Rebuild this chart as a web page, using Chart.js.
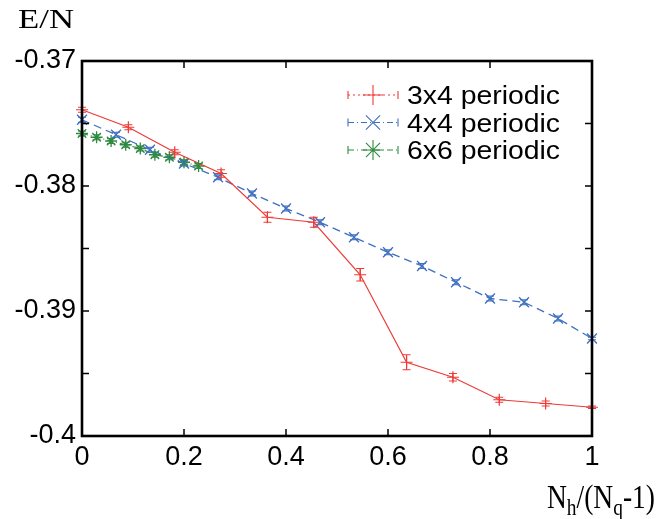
<!DOCTYPE html>
<html>
<head>
<meta charset="utf-8">
<script src="https://cdn.jsdelivr.net/npm/chart.js@4.4.1/dist/chart.umd.min.js"></script>
<style>
  html, body { margin: 0; padding: 0; background: #fff; }
  canvas { display: block; }
</style>
</head>
<body>
<canvas id="chart" width="668" height="519"></canvas>
<script>
// x = Nh/(Nq-1), y = E/N
const x3x4 = [0, 0.0909, 0.1818, 0.2727, 0.3636, 0.4545, 0.5455, 0.6364, 0.7273, 0.8182, 0.9091, 1];
const e3x4 = [-0.3739, -0.3753, -0.3773, -0.3790, -0.3825, -0.3829, -0.3871, -0.3941, -0.3953, -0.3971, -0.3974, -0.3977];
const err3x4 = [0.0002, 0.0002, 0.0002, 0.0003, 0.0004, 0.0004, 0.0005, 0.0006, 0.0003, 0.0002, 0.0002, 0.0001];

const x4x4 = [0, 0.0667, 0.1333, 0.2, 0.2667, 0.3333, 0.4, 0.4667, 0.5333, 0.6, 0.6667, 0.7333, 0.8, 0.8667, 0.9333, 1];
const e4x4 = [-0.3747, -0.3759, -0.3771, -0.3782, -0.3793, -0.3806, -0.3818, -0.3829, -0.3841, -0.3853, -0.3864, -0.3877, -0.3890, -0.3893, -0.3906, -0.3922];
const err4x4 = [0.0002, 0.0002, 0.0002, 0.0002, 0.0002, 0.0002, 0.0002, 0.0002, 0.0002, 0.0002, 0.0002, 0.0002, 0.0002, 0.0002, 0.0002, 0.0001];

const x6x6 = [0, 0.0286, 0.0571, 0.0857, 0.1143, 0.1429, 0.1714, 0.2, 0.2286];
const e6x6 = [-0.3758, -0.3761, -0.3764, -0.3767, -0.3770, -0.3775, -0.3777, -0.3781, -0.3784];
const err6x6 = [0.0002, 0.0002, 0.0002, 0.0002, 0.0002, 0.0002, 0.0002, 0.0002, 0.0002];

const seriesNames = ["3x4 periodic", "4x4 periodic", "6x6 periodic"];
const xTickLabels = [0, 0.2, 0.4, 0.6, 0.8, 1];
const yTickLabels = [-0.37, -0.38, -0.39, -0.4];
const yMinorTicks = [-0.375, -0.385, -0.395];

const SANS = "'Liberation Sans', Arial, sans-serif";
const SERIF = "'Liberation Serif', 'Times New Roman', serif";

function toPoints(xs, ys) {
  return xs.map((x, i) => ({ x: x, y: ys[i] }));
}

function findLabel(list, v) {
  const t = list.find((k) => Math.abs(k - v) < 1e-6);
  return t === undefined ? "" : String(t);
}

// draw text squeezed/stretched to a given width
function fitText(ctx, parts, size, left, baseline, width) {
  const subSize = Math.round(size * 0.7);
  let total = 0;
  parts.forEach((p) => {
    ctx.font = (p.sub ? subSize : size) + "px " + SERIF;
    p.w = ctx.measureText(p.t).width;
    total += p.w;
  });
  ctx.save();
  ctx.translate(left, baseline);
  ctx.scale(width / total, 1);
  let x = 0;
  parts.forEach((p) => {
    ctx.font = (p.sub ? subSize : size) + "px " + SERIF;
    ctx.fillText(p.t, x, p.sub ? size * 0.22 : 0);
    x += p.w;
  });
  ctx.restore();
}

const errorBars = {
  id: "errorBars",
  afterDatasetsDraw(chart) {
    const ctx = chart.ctx;
    const yScale = chart.scales.y;
    chart.data.datasets.forEach((ds, di) => {
      const meta = chart.getDatasetMeta(di);
      ctx.save();
      ctx.strokeStyle = ds.borderColor;
      ctx.lineWidth = 1.1;
      ctx.beginPath();
      meta.data.forEach((pt, i) => {
        const v = ds.data[i].y;
        const top = yScale.getPixelForValue(v + ds.errors[i]);
        const bot = yScale.getPixelForValue(v - ds.errors[i]);
        ctx.moveTo(pt.x, top);
        ctx.lineTo(pt.x, bot);
        ctx.moveTo(pt.x - 4, top);
        ctx.lineTo(pt.x + 4, top);
        ctx.moveTo(pt.x - 4, bot);
        ctx.lineTo(pt.x + 4, bot);
      });
      ctx.stroke();
      ctx.restore();
    });
  },
};

const frameAndText = {
  id: "frameAndText",
  afterDraw(chart) {
    const ctx = chart.ctx;
    const a = chart.chartArea;
    const xs = chart.scales.x;
    const ys = chart.scales.y;
    ctx.save();

    // inward tick marks on all four sides
    ctx.strokeStyle = "#000";
    ctx.lineWidth = 1.5;
    ctx.beginPath();
    yTickLabels.concat(yMinorTicks).forEach((v) => {
      const py = ys.getPixelForValue(v);
      ctx.moveTo(a.left, py);
      ctx.lineTo(a.left + 7, py);
      ctx.moveTo(a.right, py);
      ctx.lineTo(a.right - 7, py);
    });
    xTickLabels.forEach((v) => {
      const px = xs.getPixelForValue(v);
      ctx.moveTo(px, a.bottom);
      ctx.lineTo(px, a.bottom - 7);
      ctx.moveTo(px, a.top);
      ctx.lineTo(px, a.top + 7);
    });
    ctx.stroke();

    ctx.lineWidth = 2.6;
    ctx.strokeRect(a.left, a.top, a.right - a.left, a.bottom - a.top);

    // axis titles
    ctx.fillStyle = "#000";
    ctx.textBaseline = "alphabetic";
    ctx.textAlign = "left";
    fitText(ctx, [{ t: "E/N" }], 28, 18, 28, 56);
    fitText(ctx, [{ t: "N" }, { t: "h", sub: true }, { t: "/(" }, { t: "N" }, { t: "q", sub: true }, { t: "-1)" }], 34, 547, 508, 108);

    // legend
    chart.data.datasets.forEach((ds, i) => {
      const ry = 95 + i * 27.5;
      ctx.strokeStyle = ds.borderColor;
      ctx.lineWidth = 1.1;
      ctx.setLineDash(ds.legendDash);
      ctx.beginPath();
      ctx.moveTo(348, ry);
      ctx.lineTo(398, ry);
      ctx.stroke();
      ctx.setLineDash([]);
      ctx.beginPath();
      ctx.moveTo(348, ry - 4);
      ctx.lineTo(348, ry + 4);
      ctx.moveTo(398, ry - 4);
      ctx.lineTo(398, ry + 4);
      ctx.stroke();
      Chart.helpers.drawPoint(ctx, {
        pointStyle: ds.pointStyle,
        radius: 10,
        rotation: 0,
        borderWidth: 1.3,
      }, 373, ry);
      ctx.fillStyle = "#000";
      ctx.font = "26px " + SANS;
      const w = ctx.measureText(ds.label).width;
      ctx.save();
      ctx.translate(407, ry + 9);
      ctx.scale(153 / w, 1);
      ctx.fillText(ds.label, 0, 0);
      ctx.restore();
    });
    ctx.restore();
  },
};

const ctx = document.getElementById("chart").getContext("2d");
new Chart(ctx, {
  type: "line",
  data: {
    datasets: [
      {
        label: seriesNames[0],
        data: toPoints(x3x4, e3x4),
        errors: err3x4,
        borderColor: "#ee3a36",
        borderWidth: 1.2,
        pointStyle: "cross",
        pointRadius: 6,
        pointBorderWidth: 1.2,
        legendDash: [2, 3],
        clip: false,
      },
      {
        label: seriesNames[1],
        data: toPoints(x4x4, e4x4),
        errors: err4x4,
        borderColor: "#3f6fc0",
        borderWidth: 1.3,
        borderDash: [8, 5],
        pointStyle: "crossRot",
        pointRadius: 7,
        pointBorderWidth: 1.3,
        legendDash: [6, 3, 1, 3],
        clip: false,
      },
      {
        label: seriesNames[2],
        data: toPoints(x6x6, e6x6),
        errors: err6x6,
        borderColor: "#2e8a40",
        borderWidth: 1.2,
        borderDash: [6, 3, 1, 3],
        pointStyle: "star",
        pointRadius: 6,
        pointBorderWidth: 1.3,
        legendDash: [6, 3, 1, 3],
        clip: false,
      },
    ],
  },
  options: {
    responsive: false,
    animation: false,
    layout: { padding: { top: 61, right: 76, left: 0, bottom: 0 } },
    plugins: {
      legend: { display: false },
      tooltip: { enabled: false },
    },
    scales: {
      x: {
        type: "linear",
        min: 0,
        max: 1,
        grid: { display: false, drawTicks: false },
        border: { display: false },
        ticks: {
          stepSize: 0.2,
          autoSkip: false,
          maxRotation: 0,
          padding: 5,
          color: "#000",
          font: { family: SANS, size: 27 },
          callback: (v) => findLabel(xTickLabels, v),
        },
        afterFit(scale) {
          scale.height = 83;
        },
      },
      y: {
        type: "linear",
        min: -0.4,
        max: -0.37,
        grid: { display: false, drawTicks: false },
        border: { display: false },
        ticks: {
          stepSize: 0.01,
          autoSkip: false,
          padding: 6,
          color: "#000",
          font: { family: SANS, size: 27 },
          callback: (v) => findLabel(yTickLabels, v),
        },
        afterFit(scale) {
          scale.width = 82;
        },
      },
    },
  },
  plugins: [errorBars, frameAndText],
});
</script>
</body>
</html>
